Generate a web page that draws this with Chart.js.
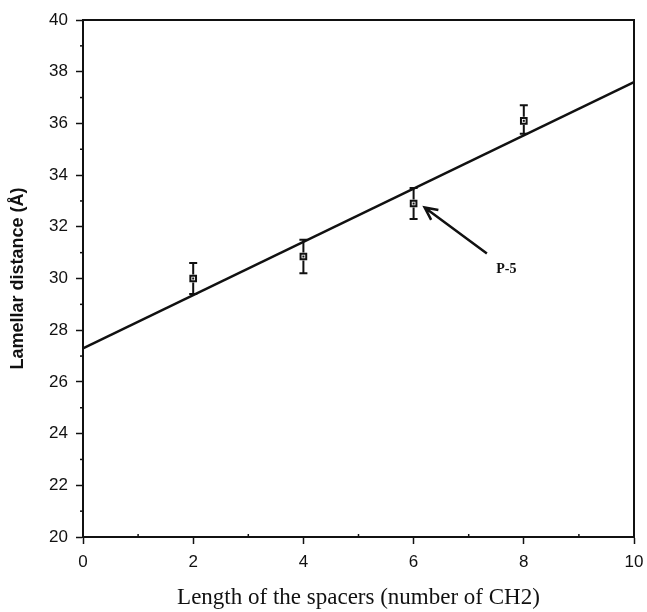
<!DOCTYPE html>
<html>
<head>
<meta charset="utf-8">
<script src="https://cdn.jsdelivr.net/npm/chart.js@4/dist/chart.umd.min.js"></script>
<style>
  html, body { margin: 0; padding: 0; background: #fff; }
  #wrap { width: 647px; height: 612px; }
</style>
</head>
<body>
<div id="wrap"><canvas id="myChart" width="647" height="612"></canvas></div>
<script>
// spacer length (number of CH2) and lamellar distance (A)
const spacers = [2, 4, 6, 8];
const distance = [30.0, 30.85, 32.9, 36.1];
const errLow = [29.4, 30.2, 32.3, 35.6];
const errHigh = [30.6, 31.5, 33.5, 36.7];

// fitted line
const fitX = [0, 10];
const fitY = [27.3, 37.6];

// arrow annotation for P-5 (data coordinates)
const arrowFrom = [7.33, 30.97];
const arrowTo = [6.2, 32.75];
const labelAt = [7.5, 30.35];
const labelText = "P-5";

const INK = "#111";

// error bars, box border, minor ticks, arrow
const extras = {
  id: "extras",
  afterDatasetsDraw(chart) {
    const c = chart.ctx;
    const xs = chart.scales.x;
    const ys = chart.scales.y;
    const area = chart.chartArea;
    c.save();
    c.strokeStyle = INK;
    c.fillStyle = INK;

    // error bars
    c.lineWidth = 2;
    spacers.forEach((s, i) => {
      const px = xs.getPixelForValue(s);
      const top = ys.getPixelForValue(errHigh[i]);
      const bot = ys.getPixelForValue(errLow[i]);
      const mid = ys.getPixelForValue(distance[i]);
      c.beginPath();
      c.moveTo(px, top); c.lineTo(px, mid - 4);
      c.moveTo(px, mid + 4); c.lineTo(px, bot);
      c.moveTo(px - 4, top); c.lineTo(px + 4, top);
      c.moveTo(px - 4, bot); c.lineTo(px + 4, bot);
      c.stroke();
      // small dot inside the square marker
      c.fillRect(px - 1, mid - 1, 2, 2);
    });

    // box
    c.lineWidth = 2;
    c.strokeRect(area.left, area.top, area.right - area.left, area.bottom - area.top);

    // minor ticks
    c.lineWidth = 1.5;
    for (let v = 21; v < 40; v += 2) {
      const py = ys.getPixelForValue(v);
      c.beginPath();
      c.moveTo(area.left - 3, py); c.lineTo(area.left + 1, py);
      c.stroke();
    }
    for (let v = 1; v < 10; v += 2) {
      const px = xs.getPixelForValue(v);
      c.beginPath();
      c.moveTo(px, area.bottom); c.lineTo(px, area.bottom - 3);
      c.stroke();
    }

    // arrow
    const x0 = xs.getPixelForValue(arrowFrom[0]);
    const y0 = ys.getPixelForValue(arrowFrom[1]);
    const x1 = xs.getPixelForValue(arrowTo[0]);
    const y1 = ys.getPixelForValue(arrowTo[1]);
    const ang = Math.atan2(y1 - y0, x1 - x0);
    c.lineWidth = 2.5;
    c.beginPath();
    c.moveTo(x0, y0); c.lineTo(x1, y1);
    c.moveTo(x1 - 14 * Math.cos(ang - 0.45), y1 - 14 * Math.sin(ang - 0.45));
    c.lineTo(x1, y1);
    c.lineTo(x1 - 14 * Math.cos(ang + 0.45), y1 - 14 * Math.sin(ang + 0.45));
    c.stroke();

    c.font = "bold 14px 'Liberation Serif', serif";
    c.textBaseline = "middle";
    c.textAlign = "left";
    c.fillText(labelText, xs.getPixelForValue(labelAt[0]), ys.getPixelForValue(labelAt[1]));
    c.restore();
  },
};

const ctx = document.getElementById("myChart").getContext("2d");

new Chart(ctx, {
  type: "scatter",
  data: {
    datasets: [
      {
        type: "line",
        data: fitX.map((x, i) => ({ x: x, y: fitY[i] })),
        borderColor: INK,
        borderWidth: 2.5,
        pointRadius: 0,
        fill: false,
      },
      {
        data: spacers.map((x, i) => ({ x: x, y: distance[i] })),
        pointStyle: "rect",
        pointRadius: 4,
        pointBackgroundColor: "#fff",
        pointBorderColor: INK,
        pointBorderWidth: 2,
      },
    ],
  },
  options: {
    responsive: false,
    animation: false,
    layout: { padding: { top: 20, right: 13, left: 0, bottom: 0 } },
    plugins: {
      legend: { display: false },
      tooltip: { enabled: false },
    },
    scales: {
      x: {
        type: "linear",
        min: 0,
        max: 10,
        afterFit: (scale) => {
          scale.height = 75;
          scale.paddingLeft = 0;
          scale.paddingRight = 0;
        },
        border: { display: true, color: INK, width: 2 },
        grid: {
          drawOnChartArea: false,
          drawTicks: true,
          tickLength: 7,
          tickColor: INK,
          tickWidth: 1.5,
        },
        ticks: {
          stepSize: 2,
          color: INK,
          padding: 8,
          font: { family: "'Liberation Sans', Arial, sans-serif", size: 17 },
        },
        title: {
          display: true,
          text: "Length of the spacers (number of CH2)",
          color: INK,
          font: { family: "'Liberation Serif', 'Times New Roman', serif", size: 23 },
          padding: { top: 0, bottom: 0 },
        },
      },
      y: {
        type: "linear",
        min: 20,
        max: 40,
        afterFit: (scale) => {
          scale.width = 83;
          scale.paddingTop = 0;
          scale.paddingBottom = 0;
        },
        border: { display: true, color: INK, width: 2 },
        grid: {
          drawOnChartArea: false,
          drawTicks: true,
          tickLength: 7,
          tickColor: INK,
          tickWidth: 1.5,
        },
        ticks: {
          stepSize: 2,
          color: INK,
          padding: 8,
          font: { family: "'Liberation Sans', Arial, sans-serif", size: 17 },
        },
        title: {
          display: true,
          text: "Lamellar distance (Å)",
          color: INK,
          font: { family: "'Liberation Sans', Arial, sans-serif", size: 18, weight: "bold" },
          padding: { top: 7, bottom: 0 },
        },
      },
    },
  },
  plugins: [extras],
});
</script>
</body>
</html>
